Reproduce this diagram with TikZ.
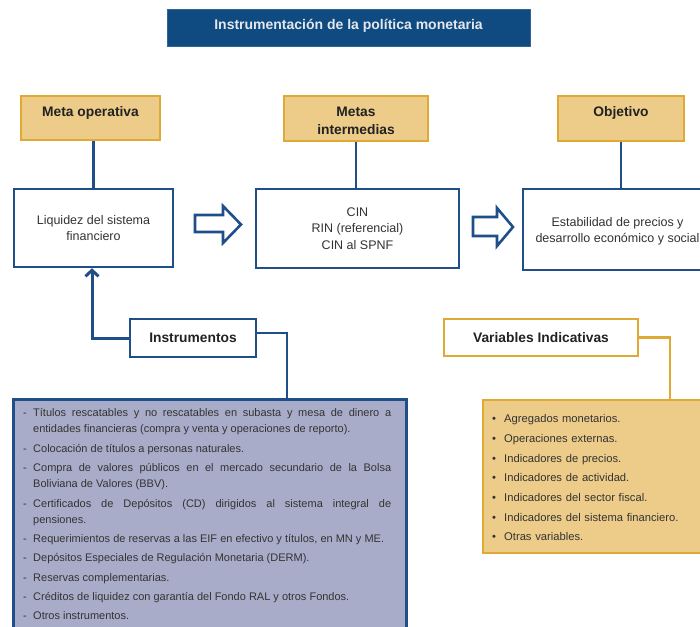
\documentclass[tikz,border=0pt]{standalone}
\usepackage{fontspec}
\setmainfont{Liberation Sans}
\usetikzlibrary{arrows.meta,calc}
\definecolor{navy}{HTML}{0F4A80}
\definecolor{bblue}{HTML}{1F4E89}
\definecolor{gborder}{HTML}{E0A834}
\definecolor{gfill}{HTML}{EDCC89}
\definecolor{lav}{HTML}{A9ACC9}
\definecolor{txt}{HTML}{333333}
\definecolor{hdrtxt}{HTML}{222222}
\definecolor{ttltxt}{HTML}{E4E8EE}
\newcommand{\lstitem}[1]{\par\hangindent=10pt\hangafter=1\noindent\makebox[10pt][l]{-}#1\par}
\newcommand{\bulitem}[1]{\makebox[12pt][l]{\textbullet}#1}
\begin{document}
\begin{tikzpicture}[x=1pt,y=-1pt,
  hdr/.style={draw=gborder, fill=gfill, line width=2.2pt, inner sep=0pt},
  hdrlabel/.style={font=\fontsize{13.8}{18}\selectfont\bfseries, text=hdrtxt, align=center, inner sep=0pt},
  bbox/.style={draw=bblue, fill=white, line width=2.5pt, inner sep=0pt, align=center, text=txt, font=\fontsize{12.5}{16.5}\selectfont},
  conn/.style={draw=bblue, line width=2.8pt},
  gconn/.style={draw=gborder, line width=2.4pt},
  hollow/.style={draw=bblue, fill=white, line width=2.6pt, line join=miter}
]
\useasboundingbox (0,0) rectangle (700,626);

% title
\node[fill=navy, draw=navy!85!white, line width=0.8pt, minimum width=363pt, minimum height=37pt, inner sep=0pt] (title) at (348.5,27.5) {};
\node[text=ttltxt, inner sep=0pt, font=\fontsize{14}{16}\selectfont\bfseries] (titlelab) at (348.5,25.5) {Instrumentación de la política monetaria};

% header boxes
\node[hdr, minimum width=139pt, minimum height=44pt] (mo) at (90.5,118) {};
\node[hdrlabel] (molab) at (90.5,112.5) {Meta operativa};
\node[hdr, minimum width=144pt, minimum height=45pt] (mi) at (356,118.5) {};
\node[hdrlabel] (milab) at (356,121) {Metas\\intermedias};
\node[hdr, minimum width=126pt, minimum height=45pt] (ob) at (621,118.5) {};
\node[hdrlabel] (oblab) at (621,112.5) {Objetivo};

% main boxes
\node[bbox, minimum width=159pt, minimum height=78pt] (liq) at (93.5,228) {Liquidez del sistema\\financiero};
\node[bbox, minimum width=203pt, minimum height=79pt] (cin) at (357.5,228.5) {CIN\\RIN (referencial)\\CIN al SPNF};
\node[bbox, minimum width=189pt, minimum height=81pt] (est) at (617.5,229.5) {};
\node[bbox, draw=none, fill=none] (estlab) at (617.5,231.5) {Estabilidad de precios y\\desarrollo económico y social};

% hollow arrows
\draw[hollow] (195,215) -- (223,215) -- (223,206) -- (241,224.5) -- (223,243) -- (223,232) -- (195,232) -- cycle;
\draw[hollow] (473,217) -- (497,217) -- (497,208) -- (513,227) -- (497,246) -- (497,236) -- (473,236) -- cycle;

% connectors header -> boxes
\draw[conn] (liq.north |- mo.south) -- (liq.north);
\draw[conn] (mi.south) -- (mi.south |- cin.north);
\draw[conn] (ob.south) -- (ob.south |- est.north);

% instruments
\node[bbox, minimum width=126pt, minimum height=38pt, font=\fontsize{13.8}{16}\selectfont\bfseries, text=hdrtxt] (ins) at (193,338) {Instrumentos};
\node[draw=gborder, fill=white, line width=2.4pt, inner sep=0pt, minimum width=194pt, minimum height=37pt, font=\fontsize{13.8}{16}\selectfont\bfseries, text=hdrtxt] (vi) at (541,337.5) {Variables Indicativas};

\draw[conn, line width=3pt, -{Straight Barb[length=6pt,width=13pt]}] (ins.west) -| ([xshift=-1.5pt]liq.south);

% list boxes
\node[draw=bblue, fill=lav, line width=2.5pt, inner sep=0pt, minimum width=393pt, minimum height=240pt, anchor=north west] (lst) at (12,398) {};
\node[draw=gborder, fill=gfill, line width=2.4pt, inner sep=0pt, minimum width=230pt, minimum height=153pt, anchor=north west] (vb) at (482,399) {};

\draw[conn, line width=2.2pt] ([yshift=5pt]ins.east) -| ([xshift=275pt]lst.north west);
\draw[gconn] (vi.east) -| ([xshift=188pt]vb.north west);

\node[anchor=north west, text width=368pt, inner sep=0pt, align=justify, text=txt, font=\fontsize{11}{16.5}\selectfont] (lsttext) at (23,397) {\setlength{\parskip}{2.7pt}%
\lstitem{Títulos rescatables y no rescatables en subasta y mesa de dinero a\linebreak entidades financieras (compra y venta y operaciones de reporto).}
\lstitem{Colocación de títulos a personas naturales.}
\lstitem{Compra de valores públicos en el mercado secundario de la Bolsa\linebreak Boliviana de Valores (BBV).}
\lstitem{Certificados de Depósitos (CD) dirigidos al sistema integral de\linebreak pensiones.}
\lstitem{Requerimientos de reservas a las EIF en efectivo y títulos, en MN y ME.}
\lstitem{Depósitos Especiales de Regulación Monetaria (DERM).}
\lstitem{Reservas complementarias.}
\lstitem{Créditos de liquidez con garantía del Fondo RAL y otros Fondos.}
\lstitem{Otros instrumentos.}};

\node[anchor=north west, text width=210pt, inner sep=0pt, align=left, text=txt, font=\fontsize{11.2}{19.7}\selectfont] (vbtext) at (492,414.3) {%
\bulitem{Agregados monetarios.}\\
\bulitem{Operaciones externas.}\\
\bulitem{Indicadores de precios.}\\
\bulitem{Indicadores de actividad.}\\
\bulitem{Indicadores del sector fiscal.}\\
\bulitem{Indicadores del sistema financiero.}\\
\bulitem{Otras variables.}};
\end{tikzpicture}
\end{document}
